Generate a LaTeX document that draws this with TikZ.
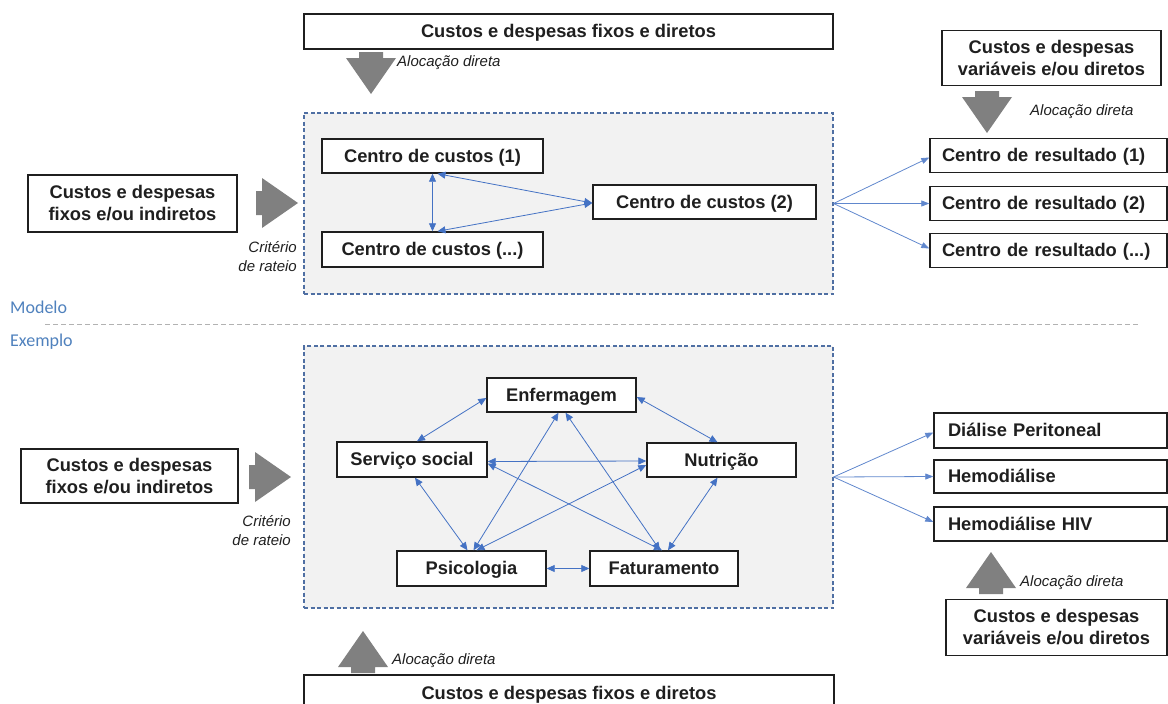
\documentclass[tikz,border=0pt]{standalone}
\usepackage{fontspec}
\setmainfont{Liberation Sans}
\newfontfamily\calibrifont{Carlito}
\usetikzlibrary{arrows.meta,calc}
\definecolor{linkblue}{HTML}{4472C4}
\definecolor{frameblue}{HTML}{4F6FA3}
\definecolor{panelgray}{HTML}{F2F2F2}
\definecolor{arrowgray}{HTML}{808080}
\definecolor{labelblue}{HTML}{4F81BD}
\definecolor{inkgray}{HTML}{1F1F1F}

\begin{document}
\begin{tikzpicture}[x=1pt,y=-1pt,
  boxtext/.style={font=\fontsize{18.3}{22}\selectfont\bfseries, text=inkgray},
  costbox/.style={boxtext, draw=inkgray, line width=1.4pt, fill=white, inner sep=0pt, align=center},
  onebox/.style={costbox, text height=14pt, text depth=2pt},
  inbox/.style={costbox, line width=2.2pt},
  resbox/.style={onebox, align=left, inner xsep=12pt, text width=#1},
  panel/.style={draw=frameblue, dash pattern=on 4pt off 2.5pt, line width=1.1pt, fill=panelgray, inner sep=0pt},
  link/.style={draw=linkblue, line width=0.8pt, {Triangle[length=8pt,width=7pt]}-{Triangle[length=8pt,width=7pt]}},
  fan/.style={draw=linkblue!85, line width=0.8pt, -{Triangle[length=8pt,width=6pt]}},
  note/.style={font=\fontsize{15}{19}\selectfont\itshape, text=inkgray, inner sep=0pt},
  section/.style={font=\calibrifont\fontsize{18}{20}\selectfont, text=labelblue, inner sep=0pt, anchor=west},
  blockarrow/.pic={\fill[arrowgray] (0,-12) -- (6,-12) -- (6,-25) -- (42,0) -- (6,25) -- (6,12) -- (0,12) -- cycle;}
]
\useasboundingbox (0,0) rectangle (1168,704);
\clip (0,0) rectangle (1168,704);

% ---------- Modelo ----------
\node[panel, minimum width=529pt, minimum height=181pt] (model) at (568.5,203.5) {};

\node[onebox, minimum width=529pt, minimum height=35pt] (topfix) at (568.5,31.5) {Custos e despesas fixos e diretos};
\pic[rotate=-90] at (371,52) {blockarrow};
\node[note, anchor=west] (lab1) at (397,63) {Alocação direta};

\node[inbox, minimum width=209pt, minimum height=57pt] (inA) at (132.5,203.5) {Custos e despesas\\fixos e/ou indiretos};
\pic at (256,203) {blockarrow};
\node[note, anchor=east, align=right] (crit1) at (297,257) {Critério\\de rateio};

\node[onebox, minimum width=221pt, minimum height=34pt] (c1) at (432.5,156) {Centro de custos (1)};
\node[onebox, minimum width=221pt, minimum height=35pt] (cn) at (432.5,249.5) {Centro de custos (...)};
\node[onebox, minimum width=223pt, minimum height=34pt] (c2) at (704.5,202) {Centro de custos (2)};

\draw[link] (c1.south) -- (cn.north);
\draw[link] ($(c1.south)+(5,0)$) -- ($(c2.west)+(0,1)$);
\draw[link] ($(cn.north)+(5,0)$) -- ($(c2.west)+(0,1)$);

\node[costbox, minimum width=219pt, minimum height=55pt] (varA) at (1051.5,58) {Custos e despesas\\variáveis e/ou diretos};
\pic[rotate=-90] at (987,91) {blockarrow};
\node[note, anchor=west] (lab2) at (1030,112) {Alocação direta};

\node[resbox=213pt, minimum height=34pt] (r1) at (1048.5,155.5) {Centro de resultado (1)};
\node[resbox=213pt, minimum height=34pt] (r2) at (1048.5,203.5) {Centro de resultado (2)};
\node[resbox=213pt, minimum height=34pt] (r3) at (1048.5,250.5) {Centro de resultado (...)};

\coordinate (fanA) at (model.east);
\draw[fan] (fanA) -- ($(r1.west)+(0,2)$);
\draw[fan] (fanA) -- (r2.west);
\draw[fan] (fanA) -- ($(r3.west)+(0,-2)$);

% ---------- separator ----------
\node[section] (modelo) at (10,307) {Modelo};
\draw[gray!60, dash pattern=on 5pt off 3pt, line width=1pt] (45,324) -- (1140,324);
\node[section] (exemplo) at (10,342) {Exemplo};

% ---------- Exemplo ----------
\node[panel, minimum width=529pt, minimum height=262pt] (example) at (568.5,477) {};

\node[inbox, minimum width=217pt, minimum height=54pt] (inB) at (129.5,476) {Custos e despesas\\fixos e/ou indiretos};
\pic at (249,477) {blockarrow};
\node[note, anchor=east, align=right] (crit2) at (291,531) {Critério\\de rateio};

\node[onebox, minimum width=149pt, minimum height=34pt] (enf) at (561.5,395) {Enfermagem};
\node[onebox, minimum width=150pt, minimum height=35pt] (serv) at (412,459.5) {Serviço social};
\node[onebox, minimum width=149pt, minimum height=34pt] (nutr) at (721.5,460) {Nutrição};
\node[onebox, minimum width=149pt, minimum height=35pt] (psic) at (471.5,568.5) {Psicologia};
\node[onebox, minimum width=148pt, minimum height=35pt] (fat) at (664,568.5) {Faturamento};

\draw[link] ($(enf.west)+(0,3)$) -- ($(serv.north)+(5,0)$);
\draw[link] ($(enf.east)+(0,2)$) -- ($(nutr.north)+(-4,0)$);
\draw[link] ($(serv.east)+(0,2)$) -- ($(nutr.west)+(0,1)$);
\draw[link] ($(serv.south)+(3,0)$) -- ($(psic.north)+(-4,0)$);
\draw[link] ($(enf.south)+(-3,0)$) -- ($(psic.north)+(2,0)$);
\draw[link] ($(enf.south)+(4,0)$) -- ($(fat.north)+(-4,0)$);
\draw[link] ($(nutr.west)+(0,5)$) -- ($(psic.north)+(5,0)$);
\draw[link] ($(serv.east)+(0,4)$) -- ($(fat.north)+(-2,0)$);
\draw[link] ($(nutr.south)+(-4,0)$) -- ($(fat.north)+(4,0)$);
\draw[link] (psic.east) -- (fat.west);

\node[resbox=205pt, inner xsep=14pt, minimum height=35pt] (d1) at (1050.5,430.5) {Diálise Peritoneal};
\node[resbox=205pt, inner xsep=14pt, minimum height=33pt] (d2) at (1050.5,476.5) {Hemodiálise};
\node[resbox=205pt, inner xsep=14pt, minimum height=34pt] (d3) at (1050.5,524) {Hemodiálise HIV};

\coordinate (fanB) at (example.east);
\draw[fan] (fanB) -- ($(d1.west)+(0,2)$);
\draw[fan] (fanB) -- (d2.west);
\draw[fan] (fanB) -- ($(d3.west)+(0,-2)$);

\pic[rotate=90] at (991,594) {blockarrow};
\node[note, anchor=west] (lab3) at (1020,583) {Alocação direta};
\node[costbox, minimum width=221pt, minimum height=56pt] (varB) at (1056.5,627.5) {Custos e despesas\\variáveis e/ou diretos};

\pic[rotate=90] at (363,673) {blockarrow};
\node[note, anchor=west] (lab4) at (392,661) {Alocação direta};
\node[onebox, minimum width=530pt, minimum height=37pt] (botfix) at (569,693.5) {Custos e despesas fixos e diretos};

\end{tikzpicture}
\end{document}
